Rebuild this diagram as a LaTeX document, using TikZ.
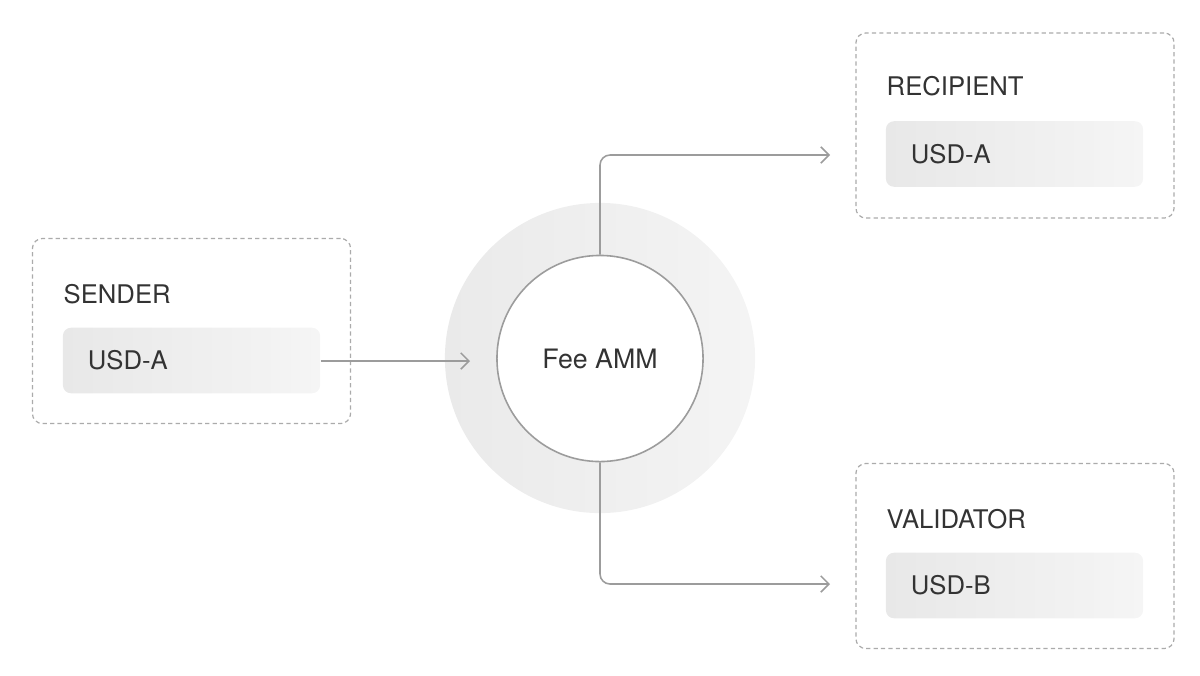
\documentclass[tikz,border=0pt]{standalone}
\usepackage{fontspec}
\setmainfont{TeX Gyre Heros}
\usetikzlibrary{arrows.meta,calc}
\definecolor{txt}{HTML}{333333}
\definecolor{dashc}{HTML}{ABABAB}
\definecolor{linec}{HTML}{9C9C9C}
\definecolor{boxl}{HTML}{E8E8E8}
\definecolor{boxr}{HTML}{F5F5F5}
\definecolor{ringl}{HTML}{EAEAEA}
\definecolor{ringr}{HTML}{F4F4F4}
\tikzset{
  outerbox/.style={draw=dashc, line width=0.35pt, dash pattern=on 1.2pt off 0.9pt,
    rounded corners=0.1cm, minimum width=3.18cm, minimum height=1.85cm, inner sep=0pt},
  innerbox/.style={rounded corners=0.08cm, left color=boxl, right color=boxr, draw=none,
    minimum height=0.655cm, text width=2.07cm, inner xsep=0.25cm, inner ysep=0pt,
    align=left, font=\fontsize{7.3pt}{8pt}\selectfont, text=txt},
  titletext/.style={anchor=base west, inner sep=0pt, font=\fontsize{7.3pt}{8pt}\selectfont, text=txt},
  conn/.style={draw=linec, line width=0.45pt, -{Straight Barb[length=2.3pt,width=4.6pt,line width=0.45pt]}, rounded corners=0.1cm}
}
\begin{document}
\begin{tikzpicture}[x=0.01cm,y=-0.01cm]
\useasboundingbox (0,0) rectangle (1200,675);
% sender
\node[outerbox] (sout) at (191.5,331) {};
\node[titletext] (stitle) at (63,303) {SENDER};
\node[innerbox] (sin) at (191.5,360.5) {USD-A};
% recipient
\node[outerbox] (rout) at (1015,125.5) {};
\node[titletext] (rtitle) at (886,95) {RECIPIENT};
\node[innerbox] (rin) at (1014.5,154) {USD-A};
% validator
\node[outerbox] (vout) at (1015,556) {};
\node[titletext] (vtitle) at (886,528) {VALIDATOR};
\node[innerbox] (vin) at (1014.5,585.5) {USD-B};
% ring
\node[circle, minimum size=3.1cm, left color=ringl, right color=ringr, draw=none, inner sep=0pt] (ring) at (600,358) {};
\coordinate (inarr) at (470,361);
\coordinate (rtip) at (830,155);
\coordinate (vtip) at (830,584);
\node[circle, minimum size=2.06cm, fill=white, draw=linec, line width=0.45pt, inner sep=0pt,
  font=\fontsize{7.6pt}{8pt}\selectfont, text=txt] (amm) at (600,358.5) {Fee AMM};
\draw[conn] (sin.east |- inarr) -- (inarr);
\draw[conn] (amm.north) |- (rtip);
\draw[conn] (amm.south) |- (vtip);
\end{tikzpicture}
\end{document}
